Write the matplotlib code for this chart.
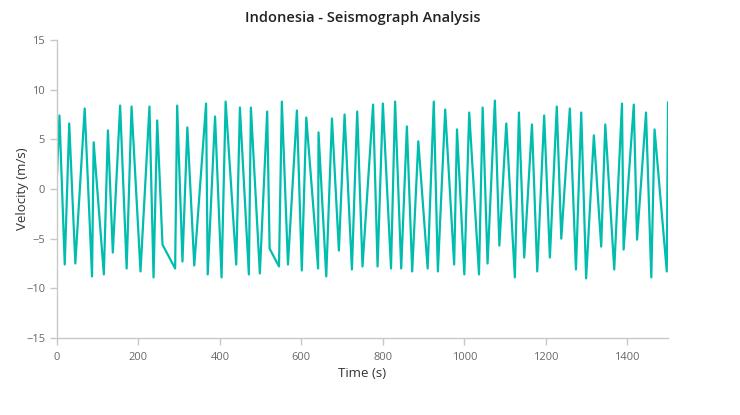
import matplotlib.pyplot as plt

# time (s) and velocity (m/s)
time_s = [0, 6, 19, 30, 45, 68, 86, 90, 115, 125, 137, 155, 171, 183, 205, 227,
          237, 246, 259, 290, 295, 308, 320, 337, 366, 370, 388, 404, 414, 440,
          449, 471, 476, 498, 516, 522, 545, 552, 567, 589, 601, 612, 641, 642,
          661, 675, 692, 706, 724, 737, 750, 776, 787, 800, 820, 830, 845, 859,
          872, 887, 910, 925, 935, 953, 975, 982, 1000, 1012, 1036, 1045, 1057,
          1075, 1086, 1103, 1124, 1134, 1147, 1166, 1179, 1196, 1210, 1227,
          1238, 1259, 1274, 1287, 1299, 1318, 1336, 1346, 1368, 1387, 1391,
          1416, 1424, 1446, 1459, 1467, 1497, 1500]
velocity = [1.5, 7.4, -7.6, 6.6, -7.5, 8.1, -8.8, 4.7, -8.6, 5.9, -6.4, 8.4,
            -8.0, 8.3, -8.3, 8.3, -8.9, 6.9, -5.6, -8.0, 8.4, -7.3, 6.2, -7.7,
            8.6, -8.6, 7.3, -8.9, 8.8, -7.6, 8.2, -8.6, 8.2, -8.5, 7.8, -6.0,
            -7.8, 8.8, -7.6, 7.9, -8.2, 7.2, -8.0, 5.7, -8.8, 7.1, -6.2, 7.5,
            -8.1, 7.8, -7.8, 8.5, -7.8, 8.6, -8.0, 8.8, -8.0, 6.3, -8.3, 4.8,
            -8.0, 8.8, -8.3, 8.0, -7.6, 6.0, -8.6, 7.7, -8.6, 8.2, -7.5, 8.9,
            -5.7, 6.6, -8.9, 7.7, -6.9, 6.5, -8.3, 7.4, -6.9, 8.3, -5.0, 8.1,
            -8.1, 7.7, -9.0, 5.4, -5.8, 6.5, -8.1, 8.6, -6.1, 8.5, -5.1, 7.7,
            -8.9, 6.0, -8.3, 8.7]

x_ticks = [0, 200, 400, 600, 800, 1000, 1200, 1400]
y_ticks = [-15, -10, -5, 0, 5, 10, 15]

plt.rcParams['font.family'] = ['Open Sans', 'DejaVu Sans']

fig = plt.figure(figsize=(7.4, 4.15), dpi=100)
ax = fig.add_axes([57 / 740, 1 - 338 / 415, 611 / 740, 298 / 415])

ax.plot(time_s, velocity, color='#00BDAE', linewidth=1.6)

ax.set_xlim(0, 1500)
ax.set_ylim(-15, 15)
ax.set_xticks(x_ticks)
ax.set_yticks(y_ticks)

for side in ['top', 'right']:
    ax.spines[side].set_visible(False)
for side in ['left', 'bottom']:
    ax.spines[side].set_color('#c8c8c8')
    ax.spines[side].set_linewidth(1)
ax.tick_params(axis='both', colors='#c8c8c8', labelcolor='#686868',
               labelsize=8, length=5, width=1)
ax.tick_params(axis='x', pad=5)

ax.set_xlabel('Time (s)', fontsize=9.5, color='#333333', labelpad=3)
ax.set_ylabel('Velocity (m/s)', fontsize=9.5, color='#333333', labelpad=-2)
fig.text(0.5 * (57 + 668) / 740, 1 - 18 / 415, 'Indonesia - Seismograph Analysis',
         ha='center', va='center', fontsize=10.5, color='#222222', fontweight=600)

fig.savefig('out.png', dpi=100)
